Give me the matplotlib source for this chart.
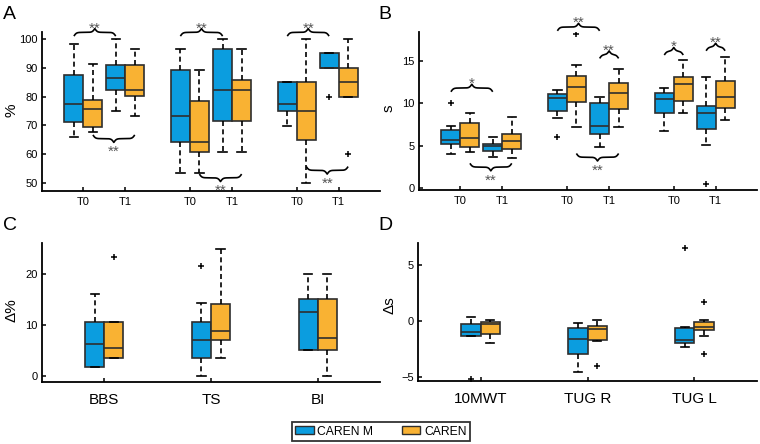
import numpy as np
import matplotlib.pyplot as plt
from matplotlib.patches import Patch

plt.rcParams['font.family'] = ['Liberation Sans', 'DejaVu Sans']

# === Data: box statistics per box as [whislo, q1, median, q3, whishi] ===
# Panel A: scores in % (three tests, T0 / T1)
a_ticklabels = ['T0', 'T1', 'T0', 'T1', 'T0', 'T1']
a_caren_m = [
    [66.1, 71.3, 77.5, 87.4, 98.4],
    [75.0, 82.3, 86.5, 91.0, 100.0],
    [53.6, 64.2, 73.1, 89.2, 96.4],
    [60.6, 71.4, 82.2, 96.4, 100.0],
    [69.9, 75.0, 77.4, 85.0, 85.0],
    [90.0, 90.0, 90.0, 95.0, 95.0],
]
a_caren_m_out = [[], [], [], [], [], [80.0]]
a_caren = [
    [67.8, 69.6, 75.8, 78.7, 91.2],
    [73.1, 80.3, 82.3, 91.0, 96.4],
    [53.6, 60.6, 64.2, 78.6, 89.1],
    [60.6, 71.4, 82.2, 85.6, 96.4],
    [50.0, 64.9, 75.0, 85.0, 100.0],
    [80.0, 80.0, 85.0, 90.0, 100.0],
]
a_caren_out = [[], [], [], [], [], [60.0]]

# Panel B: times in s (three tests, T0 / T1)
b_ticklabels = ['T0', 'T1', 'T0', 'T1', 'T0', 'T1']
b_caren_m = [
    [4.04, 5.18, 5.69, 6.86, 7.33],
    [3.73, 4.40, 4.95, 5.25, 6.00],
    [8.27, 9.14, 10.67, 11.06, 11.57],
    [4.90, 6.35, 7.37, 10.08, 10.70],
    [6.70, 8.82, 10.47, 11.18, 11.76],
    [5.10, 7.02, 8.82, 9.69, 13.14],
]
b_caren_m_out = [[10.0], [], [6.08], [], [], [0.47]]
b_caren = [
    [4.31, 4.90, 5.96, 7.65, 8.90],
    [3.53, 4.63, 5.53, 6.39, 8.43],
    [7.25, 10.16, 11.88, 13.25, 14.50],
    [7.25, 9.33, 11.25, 12.35, 14.04],
    [8.82, 10.27, 12.27, 13.06, 15.10],
    [8.04, 9.49, 10.78, 12.59, 15.41],
]
b_caren_out = [[], [], [18.16], [], [], []]

# Panel C: change in %
c_ticklabels = ['BBS', 'TS', 'BI']
c_caren_m = [
    [1.78, 1.78, 6.18, 10.66, 16.05],
    [0.0, 3.55, 7.1, 10.66, 14.28],
    [5.0, 5.0, 12.5, 15.0, 20.0],
]
c_caren_m_out = [[], [21.5], []]
c_caren = [
    [3.55, 3.55, 5.39, 10.66, 10.66],
    [3.55, 7.1, 8.9, 14.2, 25.0],
    [0.0, 5.0, 7.5, 15.0, 20.0],
]
c_caren_out = [[23.3], [], []]

# Panel D: change in s
d_ticklabels = ['10MWT', 'TUG R', 'TUG L']
d_caren_m = [
    [-1.37, -1.30, -1.00, -0.30, 0.39],
    [-4.58, -2.95, -1.64, -0.65, -0.15],
    [-2.29, -1.93, -1.70, -0.60, -0.50],
]
d_caren_m_out = [[-5.15], [], [6.49]]
d_caren = [
    [-1.93, -1.19, -0.30, -0.06, 0.09],
    [-1.76, -1.70, -0.74, -0.42, 0.09],
    [-1.31, -0.80, -0.57, -0.06, 0.06],
]
d_caren_out = [[], [-3.99], [1.70, -2.95]]

# Significance braces: (from position, from series, to position, to series, y, direction, label)
# series 0 = CAREN M, 1 = CAREN
a_sig = [
    (0, 0, 1, 0, 101.0, 'up', '**'),
    (0, 1, 1, 1, 66.7, 'down', '**'),
    (2, 0, 3, 0, 101.0, 'up', '**'),
    (2, 1, 3, 1, 53.1, 'down', '**'),
    (4, 0, 5, 0, 101.0, 'up', '**'),
    (4, 1, 5, 1, 55.7, 'down', '**'),
]
b_sig = [
    (0, 0, 1, 0, 11.37, 'up', '*'),
    (0, 1, 1, 1, 2.94, 'down', '**'),
    (2, 0, 3, 0, 18.55, 'up', '**'),
    (3, 0, 3, 1, 15.3, 'up', '**'),
    (2, 1, 3, 1, 4.1, 'down', '**'),
    (4, 0, 4, 1, 15.7, 'up', '*'),
    (5, 0, 5, 1, 16.2, 'up', '**'),
]

# === Style ===
BLUE = '#0B9DDF'
ORANGE = '#F9B233'
EDGE = '#2E2E2E'
SERIES = [('CAREN M', BLUE), ('CAREN', ORANGE)]
GROUP_POS = [0.98, 1.97, 3.5, 4.5, 6.03, 7.02]
MID_POS = [1.475, 4.0, 6.525]
OFFSET = 0.225
WIDTH = 0.45

W, H = 760, 444
fig = plt.figure(figsize=(W / 100, H / 100), dpi=100)


def add_axes(left, top, right, bottom):
    return fig.add_axes([left / W, 1 - bottom / H, (right - left) / W, (bottom - top) / H])


def to_stats(rows, outs):
    return [dict(whislo=r[0], q1=r[1], med=r[2], q3=r[3], whishi=r[4], fliers=o)
            for r, o in zip(rows, outs)]


def draw_boxes(ax, positions, series):
    for k, (rows, outs) in enumerate(series):
        color = SERIES[k][1]
        pos = [p + (-OFFSET if k == 0 else OFFSET) for p in positions]
        ax.bxp(to_stats(rows, outs), positions=pos, widths=WIDTH,
               patch_artist=True, manage_ticks=False,
               boxprops=dict(facecolor=color, edgecolor=EDGE, linewidth=1.2),
               medianprops=dict(color=EDGE, linewidth=1.2),
               whiskerprops=dict(color='k', linewidth=1.2, linestyle=(0, (3, 2))),
               capprops=dict(color='k', linewidth=1.2),
               capwidths=0.2,
               flierprops=dict(marker='+', markeredgecolor='k', markersize=5,
                               markeredgewidth=1.1, linestyle='none'))


def style_axes(ax, xlim, ylim, yticks, ticks, ticklabels, xfont, xpad):
    ax.set_xlim(*xlim)
    ax.set_ylim(*ylim)
    ax.set_yticks(yticks)
    ax.set_xticks(ticks)
    ax.set_xticklabels(ticklabels)
    ax.spines['top'].set_visible(False)
    ax.spines['right'].set_visible(False)
    for s in ['left', 'bottom']:
        ax.spines[s].set_linewidth(1.3)
    ax.tick_params(axis='both', direction='in', length=3, width=1.1, labelsize=8)
    ax.tick_params(axis='y', pad=3)
    ax.tick_params(axis='x', labelsize=xfont, pad=xpad)
    ax.set_facecolor('none')


def brace(ax, x0, x1, y, up, label, h=7.5):
    px0, py = ax.transData.transform((x0, y))
    px1, _ = ax.transData.transform((x1, y))
    xs = np.linspace(px0, px1, 201)
    half = xs[:101]
    beta = 0.8
    yh = (1 / (1 + np.exp(-beta * (half - half[0])))
          + 1 / (1 + np.exp(-beta * (half - half[-1]))))
    shape = np.concatenate([yh, yh[-2::-1]]) - 0.5
    sgn = 1 if up else -1
    ys = py + sgn * shape * h
    pts = ax.transData.inverted().transform(np.column_stack([xs, ys]))
    ax.plot(pts[:, 0], pts[:, 1], color='k', lw=1.2, clip_on=False,
            solid_capstyle='butt')
    fs = 11
    fs_px = fs * 100 / 72
    centre = py + sgn * (h + 5)
    base = centre - 0.57 * fs_px
    tx, ty = ax.transData.inverted().transform(((px0 + px1) / 2, base))
    ax.text(tx, ty, label, ha='center', va='baseline', fontsize=fs,
            color='#555555', clip_on=False)


def draw_sig(ax, sig):
    for p0, s0, p1, s1, y, d, lab in sig:
        x0 = GROUP_POS[p0] + (-OFFSET if s0 == 0 else OFFSET)
        x1 = GROUP_POS[p1] + (-OFFSET if s1 == 0 else OFFSET)
        brace(ax, x0, x1, y, d == 'up', lab)


# === Panel A ===
ax_a = add_axes(42, 32, 380, 191)
style_axes(ax_a, (0, 8), (47.22, 102.43), [50, 60, 70, 80, 90, 100],
           GROUP_POS, a_ticklabels, 8, 4)
draw_boxes(ax_a, GROUP_POS, [(a_caren_m, a_caren_m_out), (a_caren, a_caren_out)])
draw_sig(ax_a, a_sig)

# === Panel B ===
ax_b = add_axes(419, 32, 757, 190)
style_axes(ax_b, (0, 8), (-0.2, 18.41), [0, 5, 10, 15],
           GROUP_POS, b_ticklabels, 8, 4)
draw_boxes(ax_b, GROUP_POS, [(b_caren_m, b_caren_m_out), (b_caren, b_caren_out)])
draw_sig(ax_b, b_sig)

# === Panel C ===
ax_c = add_axes(42, 243, 380, 382)
style_axes(ax_c, (0, 8), (-1.18, 26.08), [0, 10, 20],
           MID_POS, c_ticklabels, 11, 8)
draw_boxes(ax_c, MID_POS, [(c_caren_m, c_caren_m_out), (c_caren, c_caren_out)])

# === Panel D ===
ax_d = add_axes(418, 243, 757, 381)
style_axes(ax_d, (0, 8), (-5.36, 6.96), [-5, 0, 5],
           MID_POS, d_ticklabels, 11, 8)
draw_boxes(ax_d, MID_POS, [(d_caren_m, d_caren_m_out), (d_caren, d_caren_out)])

# === Labels ===
for x, y, t in [(3, 6, 'A'), (378, 6, 'B'), (3, 217, 'C'), (378, 217, 'D')]:
    fig.text(x / W, 1 - y / H, t, fontsize=14, ha='left', va='top')
for x, y, t in [(11, 110, '%'), (389, 108, 's'), (12, 310, 'Δ%'), (389, 305, 'Δs')]:
    fig.text(x / W, 1 - y / H, t, fontsize=11, rotation=90, ha='center', va='center')

handles = [Patch(facecolor=c, edgecolor=EDGE, linewidth=1.0) for _, c in SERIES]
leg = fig.legend(handles, [n for n, _ in SERIES], loc='center',
                 bbox_to_anchor=(381 / W, 1 - 431.5 / H), ncol=2, fontsize=8.7,
                 frameon=True, fancybox=False, edgecolor='k', handlelength=1.5,
                 handleheight=0.6, borderpad=0.25, columnspacing=2.4,
                 handletextpad=0.3, borderaxespad=0)
leg.get_frame().set_linewidth(1.3)

fig.savefig('out.png', dpi=100, facecolor='white')
